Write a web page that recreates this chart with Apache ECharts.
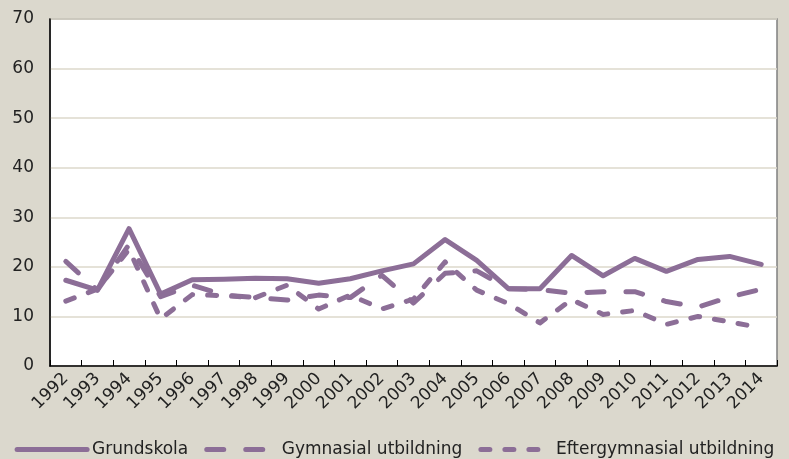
<!DOCTYPE html>
<html>
<head>
<meta charset="utf-8">
<script src="https://cdn.jsdelivr.net/npm/echarts@6/dist/echarts.min.js"></script>
<style>
  html, body { margin: 0; padding: 0; background: #dbd8cd; }
  #chart { width: 789px; height: 459px; }
</style>
</head>
<body>
<div id="chart"></div>
<script>
// årtal på x-axeln
const years = ['1992', '1993', '1994', '1995', '1996', '1997', '1998', '1999', '2000', '2001', '2002',
  '2003', '2004', '2005', '2006', '2007', '2008', '2009', '2010', '2011', '2012', '2013', '2014']

// avlästa värden per utbildningsnivå
const grundskola = [17.3, 15.3, 27.7, 14.5, 17.4, 17.5, 17.7, 17.6, 16.7, 17.6, 19.2, 20.6,
  25.5, 21.3, 15.6, 15.6, 22.3, 18.2, 21.7, 19.1, 21.5, 22.1, 20.5]
const gymnasial = [21.1, 15.3, 24.5, 14.0, 16.3, 14.3, 13.8, 13.3, 14.3, 13.8, 18.3, 12.7,
  18.7, 19.2, 15.6, 15.4, 14.7, 15.0, 15.0, 13.0, 11.9, 13.9, 15.5]
const eftergymnasial = [13.1, 15.5, 23.5, 9.5, 14.4, 14.2, 13.8, 16.3, 11.5, 14.3, 11.5, 13.5,
  21.0, 15.3, 12.6, 8.7, 13.4, 10.4, 11.2, 8.4, 10.0, 8.9, 7.7]

const lineColor = '#8c6e97'
const fontFamily = 'DejaVu Sans'

const myChart = echarts.init(document.getElementById('chart'))

function lineSeries(name, data, dash) {
  return {
    name: name,
    type: 'line',
    data: data,
    symbol: 'none',
    color: lineColor,
    lineStyle: { color: lineColor, width: 5, type: dash, cap: 'round', join: 'round' }
  }
}

myChart.setOption({
  animation: false,
  backgroundColor: '#dbd8cd',
  textStyle: { fontFamily: fontFamily },
  grid: {
    left: 50, right: 12, top: 19, bottom: 93,
    show: true, backgroundColor: '#fff', borderColor: '#808080', borderWidth: 1.5
  },
  legend: {
    left: 'center', bottom: 1, padding: 0,
    itemWidth: 70, itemHeight: 14, itemGap: 16,
    itemStyle: { opacity: 0 },
    lineStyle: { width: 5, cap: 'round' },
    textStyle: { fontSize: 17, color: '#222', fontFamily: fontFamily },
    data: ['Grundskola', 'Gymnasial utbildning', 'Eftergymnasial utbildning']
  },
  xAxis: {
    type: 'category',
    data: years,
    boundaryGap: true,
    axisLine: { lineStyle: { color: '#000', width: 1.5 } },
    axisTick: { show: true, inside: true, length: 6, interval: 0, lineStyle: { color: '#000' } },
    axisLabel: { rotate: 45, interval: 0, fontSize: 17, color: '#222', margin: 10 }
  },
  yAxis: {
    type: 'value',
    min: 0, max: 70, interval: 10,
    axisLine: { show: true, lineStyle: { color: '#000', width: 1.5 } },
    axisTick: { show: false },
    axisLabel: { fontSize: 17, color: '#222', margin: 16 },
    splitLine: { lineStyle: { color: '#dcd8cb', width: 1.5 } }
  },
  series: [
    lineSeries('Grundskola', grundskola, 'solid'),
    lineSeries('Gymnasial utbildning', gymnasial, [17, 22]),
    lineSeries('Eftergymnasial utbildning', eftergymnasial, [9, 15])
  ]
})
</script>
</body>
</html>
